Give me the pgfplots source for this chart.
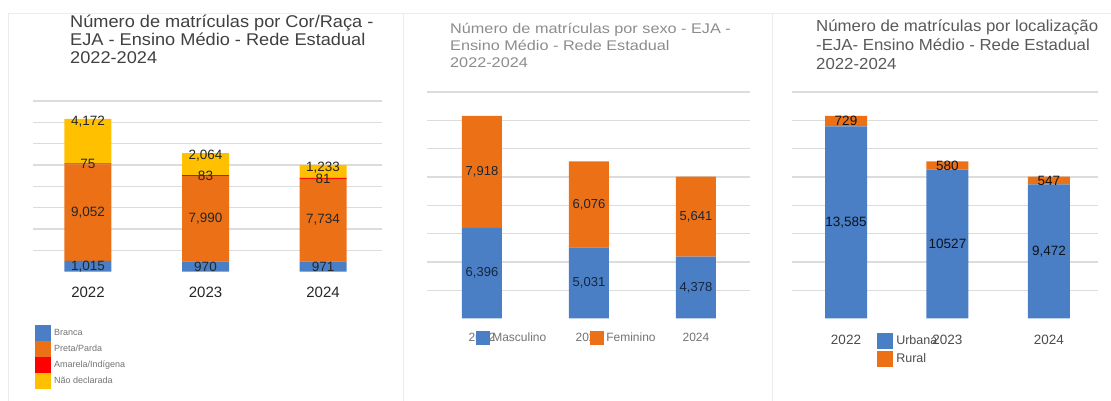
\documentclass[border=0pt]{standalone}
\usepackage{fontspec}
\setmainfont{Liberation Sans}
\newfontfamily\tfA[FakeStretch=1.07]{Liberation Sans}
\newfontfamily\tfB[FakeStretch=1.16]{Liberation Sans}
\newfontfamily\tfC[FakeStretch=1.05]{Liberation Sans}
\usepackage{pgfplots}
\usepackage{pgfplotstable}
\pgfplotsset{compat=1.18}

\definecolor{azul}{HTML}{4A7FC6}
\definecolor{laranja}{HTML}{EC7116}
\definecolor{vermelho}{HTML}{FF0000}
\definecolor{amarelo}{HTML}{FFC000}
\definecolor{grade}{HTML}{DCDCDC}
\definecolor{moldura}{HTML}{ECECEC}

% matriculas por cor/raca
\pgfplotstableread{
ano branca parda indigena naodecl
0 1015 9052 75 4172
1 970 7990 83 2064
2 971 7734 81 1233
}\cor

% matriculas por sexo
\pgfplotstableread{
ano masc fem
0 6396 7918
1 5031 6076
2 4378 5641
}\sexo

% matriculas por localizacao
\pgfplotstableread{
ano urbana rural rotulo
0 13585 729 13,585
1 10527 580 10527
2 9472 547 9,472
}\local

\pgfplotsset{
  meia altura/.code 2 args={%
    \pgfkeys{/pgf/fpu=true,/pgf/fpu/output format=fixed}%
    \pgfmathsetmacro\meiaalt{#1*#2/2}%
    \pgfkeys{/pgf/fpu=false}%
  },
  fonte rotulo/.style={},
  % stacked nodes near coords already sit in the middle of the segment
  centrado/.style={every node near coord/.style={/pgfplots/fonte rotulo, anchor=center}},
  no topo/.style={every node near coord/.style={/pgfplots/fonte rotulo,
      /pgfplots/meia altura={\pgfplotspointmeta}{#1}, anchor=center, yshift=\meiaalt bp-2.5bp}},
  painel/.style={
    scale only axis, anchor=south west,
    ybar stacked, ymin=0, ymax=16000,
    ytick={2000,4000,...,16000}, yticklabels={}, scaled y ticks=false,
    ymajorgrids, major grid style={grade, line width=1.3bp},
    axis line style={draw=none}, major tick length=0pt,
    xtick={0,1,2}, xticklabels={2022,2023,2024},
    point meta=explicit, nodes near coords,
    /pgf/number format/assume math mode=true,
    legend cell align=left,
    legend image code/.code={\fill[##1] (0bp,-8bp) rectangle (16bp,8bp); \path (19bp,0bp);},
    legend style={draw=none, fill=none, inner sep=0pt, nodes={inner sep=0pt}, row sep=0pt},
  },
}

\begin{document}
\begin{tikzpicture}
\path[use as bounding box] (0,0) rectangle (1111bp,401bp);
\draw[moldura, line width=1bp] (8bp,0) -- (8bp,387bp) -- (1111bp,387bp);
\draw[moldura, line width=1bp] (403bp,0) -- (403bp,387bp);
\draw[moldura, line width=1bp] (772bp,0) -- (772bp,387bp);

\node[anchor=north west, align=left, inner sep=0pt, text=black!75, font=\tfA\fontsize{17bp}{18bp}\selectfont]
  at (70bp,386bp) {Número de matrículas por Cor/Raça -\\EJA - Ensino Médio - Rede Estadual\\2022-2024};
\node[anchor=north west, align=left, inner sep=0pt, text=black!45, font=\tfB\fontsize{14bp}{17bp}\selectfont]
  at (450bp,378bp) {Número de matrículas por sexo - EJA -\\Ensino Médio - Rede Estadual\\2022-2024};
\node[anchor=north west, align=left, inner sep=0pt, text=black!65, font=\tfC\fontsize{16bp}{18.8bp}\selectfont]
  at (816bp,381bp) {Número de matrículas por localização\\-EJA- Ensino Médio - Rede Estadual\\2022-2024};

% Cor/Raca
\begin{axis}[painel, at={(33bp,129.3bp)}, width=349bp, height=170.7bp,
  xmin=-0.468, xmax=2.502, bar width=47bp,
  fonte rotulo/.style={font=\fontsize{13.5bp}{14bp}\selectfont, text=black!85},
  xticklabel style={font=\fontsize{15bp}{16bp}\selectfont, text=black!85, anchor=center, yshift=-21bp},
  legend style={at={(0.0057,-0.312)}, anchor=north west, font=\fontsize{9bp}{10bp}\selectfont, text=black!55},
]
\addplot[fill=azul, draw=none, centrado] table[x=ano, y=branca, meta=branca]{\cor};
\addplot[fill=laranja, draw=none, centrado] table[x=ano, y=parda, meta=parda]{\cor};
\addplot[fill=vermelho, draw=none, centrado] table[x=ano, y=indigena, meta=indigena]{\cor};
\addplot[fill=amarelo, draw=none, no topo=0.0106688] table[x=ano, y=naodecl, meta=naodecl]{\cor};
\legend{Branca, Preta/Parda, Amarela/Indígena, Não declarada}
\end{axis}

% Sexo
\begin{axis}[painel, at={(427bp,82.5bp)}, width=323bp, height=226.4bp,
  xmin=-0.514, xmax=2.505, bar width=40bp,
  fonte rotulo/.style={font=\fontsize{13bp}{14bp}\selectfont, text=black!70!azul},
  xticklabel style={font=\fontsize{12bp}{13bp}\selectfont, text=black!55, anchor=center, yshift=-19bp},
  legend columns=2,
  legend image code/.code={\fill[#1] (0bp,-7bp) rectangle (14bp,7bp); \path (16bp,0bp);},
  legend style={at={(0.152,-0.084)}, anchor=west, font=\fontsize{12bp}{13bp}\selectfont, text=black!55},
]
\addplot[fill=azul, draw=none, centrado] table[x=ano, y=masc, meta=masc]{\sexo};
\addplot[fill=laranja, draw=none, centrado] table[x=ano, y=fem, meta=fem]{\sexo};
\legend{\makebox[98bp][l]{Masculino}, Feminino}
\end{axis}

% Localizacao
\begin{axis}[painel, at={(792bp,82.5bp)}, width=306bp, height=226.4bp,
  xmin=-0.532, xmax=2.483, bar width=42bp,
  fonte rotulo/.style={font=\fontsize{13.5bp}{14bp}\selectfont, text=black!85!azul},
  xticklabel style={font=\fontsize{13.5bp}{14bp}\selectfont, text=black!70, anchor=center, yshift=-21bp},
  legend style={at={(0.278,-0.064)}, anchor=north west, row sep=2bp, font=\fontsize{12.5bp}{13bp}\selectfont, text=black!70},
]
\addplot[fill=azul, draw=none, point meta=explicit symbolic, nodes near coords={\pgfplotspointmeta}, centrado]
  table[x=ano, y=urbana, meta=rotulo]{\local};
\addplot[fill=laranja, draw=none, centrado] table[x=ano, y=rural, meta=rural]{\local};
\legend{Urbana, Rural}
\end{axis}
\end{tikzpicture}
\end{document}
